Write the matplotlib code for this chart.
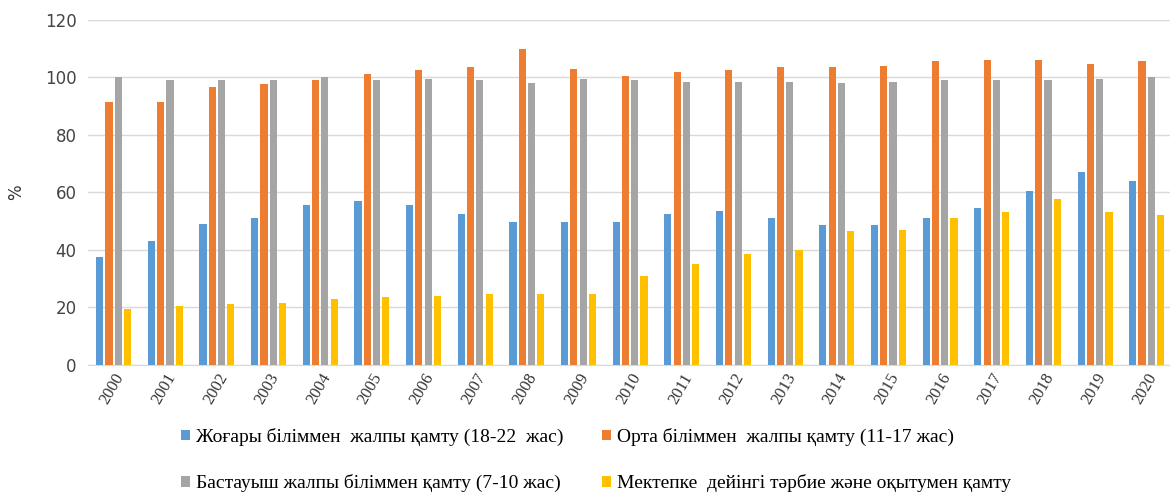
import matplotlib
matplotlib.use("Agg")
import matplotlib.pyplot as plt
import numpy as np

# === DATA ===
years = [str(y) for y in range(2000, 2021)]
higher = [37.6, 43, 49, 51, 55.5, 57, 55.5, 52.5, 49.5, 49.5, 49.5,
          52.5, 53.5, 51, 48.5, 48.5, 51, 54.5, 60.5, 67, 64]
secondary = [91.5, 91.5, 96.5, 97.5, 99, 101, 102.5, 103.5, 110, 103, 100.5,
             102, 102.5, 103.5, 103.5, 104, 105.5, 106, 106, 104.5, 105.5]
primary = [100, 99, 99, 99, 100, 99, 99.5, 99, 98, 99.5, 99,
           98.5, 98.5, 98.5, 98, 98.5, 99, 99, 99, 99.5, 100]
preschool = [19.5, 20.5, 21, 21.5, 23, 23.5, 24, 24.5, 24.5, 24.5, 31,
             35, 38.5, 40, 46.5, 47, 51, 53, 57.5, 53, 52]

labels = ["Жоғары біліммен  жалпы қамту (18-22  жас)",
          "Орта біліммен  жалпы қамту (11-17 жас)",
          "Бастауыш жалпы біліммен қамту (7-10 жас)",
          "Мектепке  дейінгі тәрбие және оқытумен қамту"]
colors = ["#5B9BD5", "#ED7D31", "#A5A5A5", "#FFC000"]

series = [higher, secondary, primary, preschool]

fig = plt.figure(figsize=(11.7, 4.95), dpi=100)
ax = fig.add_axes([0.075, 0.263, 0.925, 0.697])

x = np.arange(len(years))
w = 0.14
step = 0.18
handles = []
for i, (vals, c) in enumerate(zip(series, colors)):
    b = ax.bar(x + (i - 1.5) * step, vals, width=w, color=c, zorder=3)
    handles.append(b)

ax.set_ylim(0, 120)
ax.set_yticks(range(0, 121, 20))
ax.set_xlim(-0.5, 20.45)
ax.set_xticks(x)
ax.set_xticklabels(years, rotation=60, ha="right", rotation_mode="anchor",
                   family="Liberation Serif", fontsize=12, color="#333333")
ax.tick_params(axis="y", labelsize=12, colors="#444444", length=0, pad=8)
ax.tick_params(axis="x", length=0, pad=4)
ax.grid(axis="y", color="#D9D9D9", linewidth=1, zorder=0)
for s in ["top", "right", "left"]:
    ax.spines[s].set_visible(False)
ax.spines["bottom"].set_color("#D9D9D9")
ax.set_ylabel("%", fontsize=12, color="#333333", labelpad=14)

# legend fills column-wise, so order so rows read blue/orange, gray/yellow
order = [0, 2, 1, 3]
fig.legend([handles[i] for i in order], [labels[i] for i in order],
           ncol=2, loc="lower left",
           bbox_to_anchor=(0.14, -0.03), frameon=False,
           prop={"family": "Liberation Serif", "size": 14},
           handlelength=0.45, handleheight=0.45, handletextpad=0.3,
           columnspacing=2.0, labelspacing=1.45)

fig.savefig("out.png", dpi=100, facecolor="white")
